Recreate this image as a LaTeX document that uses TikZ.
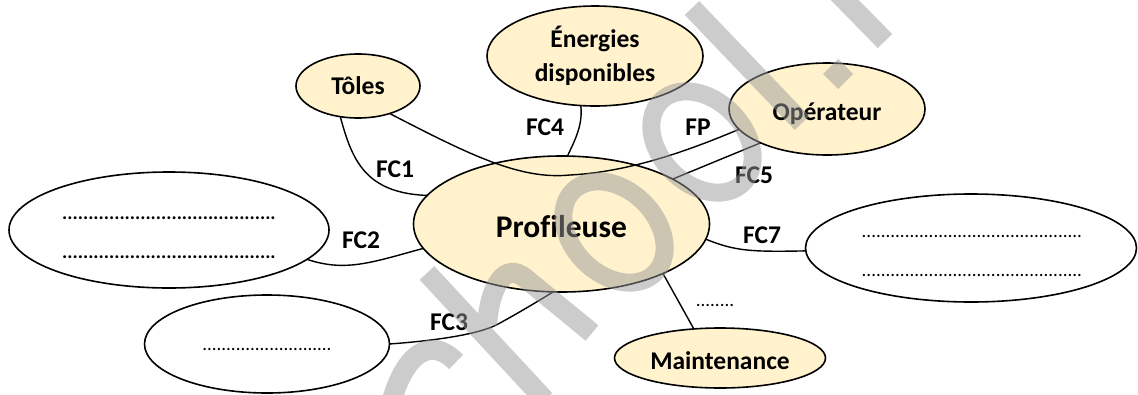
\documentclass[tikz,border=0pt]{standalone}
\usepackage{fontspec}
\setmainfont{Carlito}[Ligatures=CommonOff]
\usetikzlibrary{shapes.geometric}
\definecolor{cream}{HTML}{FFF2CC}
\newcommand{\dotrun}[1]{\foreach \i in {1,...,#1}{.}}
\newcommand{\lowered}[2]{\raisebox{-#1}[\height][\depth]{#2}}
\tikzset{
  bub/.style={ellipse,draw=black,line width=1.6pt,inner sep=0pt,outer sep=0pt,align=center},
  filled/.style={bub,fill=cream},
  lab/.style={font=\fontsize{25.5}{32}\selectfont\bfseries,inner sep=0pt},
  boldpts/.style={font=\fontsize{19.5}{24}\selectfont\bfseries,inner sep=0pt},
  thinpts/.style={font=\fontsize{19}{22}\selectfont,inner sep=0pt},
  link/.style={line width=1.4pt},
  wm/.style={draw=gray!80!white,opacity=0.5,line width=20pt}
}
\begin{document}
\begin{tikzpicture}[x=1pt,y=-1pt]
\useasboundingbox (0,0) rectangle (1138,394);
\node[filled,minimum width=296pt,minimum height=136pt,lab,font=\fontsize{31.5}{36}\selectfont\bfseries] (pro) at (561.5,224) {\lowered{3pt}{Profileuse}};
\node[filled,minimum width=124pt,minimum height=64pt,lab] (tol) at (358,86) {Tôles};
\node[filled,minimum width=216pt,minimum height=100pt,lab] (ene) at (595,56) {Énergies\\[2pt]disponibles};
\node[filled,minimum width=196pt,minimum height=92pt,lab] (ope) at (827,109) {\lowered{5pt}{Opérateur}};
\node[filled,minimum width=211pt,minimum height=60pt,lab] (mai) at (720,358) {\lowered{3pt}{Maintenance}};
\node[bub,minimum width=320pt,minimum height=116pt] (big) at (169,230) {};
\node[bub,minimum width=245pt,minimum height=98pt] (low) at (267,344) {};
\node[bub,minimum width=331pt,minimum height=108pt] (rig) at (971,248) {};

\draw[link] (tol.240) .. controls (352,160) and (365,193) .. (pro.168);
\draw[link] (tol.319) .. controls (470,155) and (520,180) .. (570,175) .. controls (630,172) and (690,150) .. (ope.193.7);
\draw[link] (ene.254) .. controls (583,125) and (575,140) .. (pro.85);
\draw[link] (ope.207) -- (pro.22.5);
\draw[link] (big.-12.6) .. controls (345,272) and (370,263) .. (pro.190);
\draw[link] (low.0) .. controls (430,341) and (480,335) .. (500,323) .. controls (520,312) and (535,303) .. (pro.263);
\draw[link] (pro.-6.7) .. controls (735,251) and (750,252) .. (rig.181);
\draw[link] (pro.-26) -- (mai.132);

\node[lab] (fc1) at (395,169) {FC1};
\node[lab] (fc2) at (361,240) {FC2};
\node[lab] (fc3) at (449,322) {FC3};
\node[lab] (fc4) at (545,127) {FC4};
\node[lab] (fp) at (698,127) {FP};
\node[lab] (fc5) at (754,175) {FC5};
\node[lab] (fc7) at (762,235) {FC7};
\node[boldpts] (b1) at (169,218) {\dotrun{41}};
\node[boldpts] (b2) at (169,257) {\dotrun{41}};
\node[thinpts] (l1) at (267,349) {\dotrun{27}};
\node[thinpts] (r1) at (972,236) {\dotrun{46}};
\node[thinpts] (r2) at (972,275) {\dotrun{46}};
\node[thinpts] (m1) at (715,305) {\dotrun{8}};

\begin{scope}
\clip (0,0) rectangle (1138,394);
\path[wm]
  (692,8) -- (802,123)
  (825,-20) -- (885,41)
  (427,273) -- (545,400)
  (487,325) .. controls (490,285) and (505,262) .. (525,278) -- (592,333)
  (456,362) .. controls (430,335) and (405,355) .. (392,400);
\path[wm,line width=18pt] plot[domain=0:356,samples=90] ({702+0.7071*(58*cos(\x)-42*sin(\x))},{142+0.7071*(58*cos(\x)+42*sin(\x))}) -- cycle;
\path[wm,line width=18pt] plot[domain=0:356,samples=90] ({614+0.7071*(58*cos(\x)-42*sin(\x))},{232+0.7071*(58*cos(\x)+42*sin(\x))}) -- cycle;
\path[fill=gray!80!white,opacity=0.5] (838,59) -- (853,74) -- (838,89) -- (823,74) -- cycle;
\end{scope}
\end{tikzpicture}
\end{document}
